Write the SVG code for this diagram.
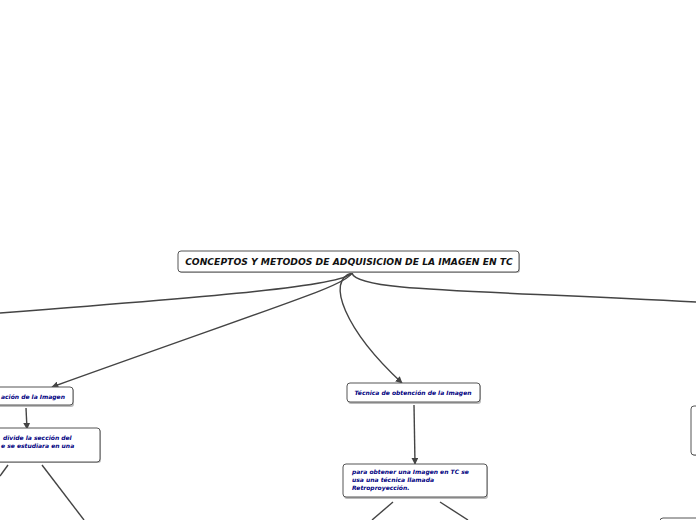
<svg xmlns="http://www.w3.org/2000/svg" width="696" height="520" viewBox="0 0 696 520">
<style>
.box{fill:#fff;stroke:#555;stroke-width:1}
.sh{fill:#bbb}
.c{fill:none;stroke:#444;stroke-width:1.4}
.t{font-family:"DejaVu Sans",Verdana,sans-serif;font-weight:bold;font-style:italic;fill:#000080;font-size:6px}
.root{font-family:"DejaVu Sans",Verdana,sans-serif;font-weight:bold;font-style:italic;fill:#111;font-size:9.2px}
</style>
<defs>
<marker id="a" viewBox="0 0 10 10" refX="9" refY="5" markerWidth="7" markerHeight="7" markerUnits="userSpaceOnUse" orient="auto"><path d="M0,0L10,5L0,10z" fill="#444"/></marker>
</defs>
<rect width="696" height="520" fill="#fff"/>
<g id="connectors">
<path class="c" d="M352,273 C342,286 220,296 0,313"/>
<path class="c" d="M352,273 C346,285 300,298 52,387" marker-end="url(#a)"/>
<path class="c" d="M352,273 C325,280 345,330 402,383" marker-end="url(#a)"/>
<path class="c" d="M352,273 C356,292 480,290 696,302"/>
<path class="c" d="M26,408 L27,429" marker-end="url(#a)"/>
<path class="c" d="M414,405 L415,464" marker-end="url(#a)"/>
<path class="c" d="M8,465 L0,476"/>
<path class="c" d="M42,465 L84,520"/>
<path class="c" d="M393,502 L372,520"/>
<path class="c" d="M440,502 L468,520"/>
</g>
<g id="root">
<rect class="sh" x="179" y="252" width="341" height="21" rx="3"/>
<rect class="box" x="178" y="251" width="341" height="21" rx="3"/>
<text class="root" x="349" y="265" text-anchor="middle">CONCEPTOS Y METODOS DE ADQUISICION DE LA IMAGEN EN TC</text>
</g>
<g id="formacion">
<rect class="sh" x="-10" y="388" width="84" height="19" rx="3"/>
<rect class="box" x="-11" y="387" width="84" height="18" rx="3"/>
<text class="t" x="1" y="398.5">ación de la Imagen</text>
</g>
<g id="divide">
<rect class="sh" x="-10" y="429" width="111" height="34" rx="3"/>
<rect class="box" x="-11" y="428" width="111" height="34" rx="3"/>
<text class="t" x="3" y="440">divide la sección del</text>
<text class="t" x="1" y="448">e se estudiara en una</text>
</g>
<g id="tecnica">
<rect class="sh" x="348" y="384" width="133" height="20" rx="3"/>
<rect class="box" x="347" y="383" width="133" height="19" rx="3"/>
<text class="t" x="413" y="394.5" text-anchor="middle">Técnica de obtención de la Imagen</text>
</g>
<g id="retro">
<rect class="sh" x="344" y="465" width="144" height="34" rx="3"/>
<rect class="box" x="343" y="464" width="144" height="33" rx="3"/>
<text class="t" x="352" y="474">para obtener una Imagen en TC se</text>
<text class="t" x="352" y="482">usa una técnica llamada</text>
<text class="t" x="352" y="490">Retroproyección.</text>
</g>
<g id="right">
<rect class="sh" x="692" y="407" width="20" height="49" rx="3"/>
<rect class="box" x="691" y="406" width="20" height="49" rx="3"/>
</g>
<g id="bottomright">
<rect class="box" x="660" y="518" width="50" height="20" rx="3"/>
</g>
</svg>
